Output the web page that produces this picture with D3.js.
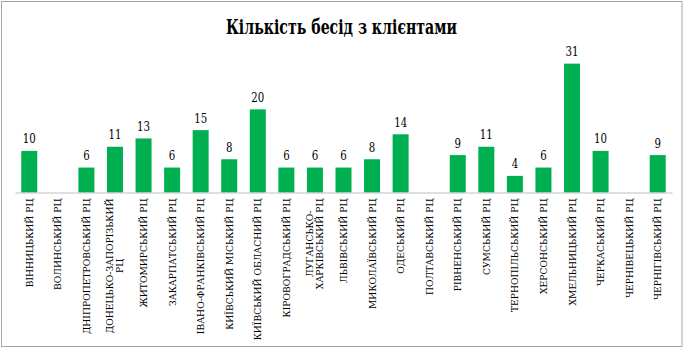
<!DOCTYPE html>
<html lang="uk">
<head>
    <meta charset="utf-8">
    <title>Кількість бесід з клієнтами</title>
    <script src="https://d3js.org/d3.v7.min.js"></script>
    <style>
        body { margin: 0; background: #fff; }
    </style>
</head>
<body>
<div id="chart"></div>
<script>
    // Data
    const categories = [
        "ВІННИЦЬКИЙ РЦ", "ВОЛИНСЬКИЙ РЦ", "ДНІПРОПЕТРОВСЬКИЙ РЦ", "ДОНЕЦЬКО-ЗАПОРІЗЬКИЙ РЦ",
        "ЖИТОМИРСЬКИЙ РЦ", "ЗАКАРПАТСЬКИЙ РЦ", "ІВАНО-ФРАНКІВСЬКИЙ РЦ", "КИЇВСЬКИЙ МІСЬКИЙ РЦ",
        "КИЇВСЬКИЙ ОБЛАСНИЙ РЦ", "КІРОВОГРАДСЬКИЙ РЦ", "ЛУГАНСЬКО-ХАРКІВСЬКИЙ РЦ", "ЛЬВІВСЬКИЙ РЦ",
        "МИКОЛАЇВСЬКИЙ РЦ", "ОДЕСЬКИЙ РЦ", "ПОЛТАВСЬКИЙ РЦ", "РІВНЕНСЬКИЙ РЦ",
        "СУМСЬКИЙ РЦ", "ТЕРНОПІЛЬСЬКИЙ РЦ", "ХЕРСОНСЬКИЙ РЦ", "ХМЕЛЬНИЦЬКИЙ РЦ",
        "ЧЕРКАСЬКИЙ РЦ", "ЧЕРНІВЕЦЬКИЙ РЦ", "ЧЕРНІГІВСЬКИЙ РЦ"
    ];
    const values = [10, null, 6, 11, 13, 6, 15, 8, 20, 6, 6, 6, 8, 14, null, 9, 11, 4, 6, 31, 10, null, 9];
    // how the long labels wrap in the original
    const labelLines = {
        "ДОНЕЦЬКО-ЗАПОРІЗЬКИЙ РЦ": ["ДОНЕЦЬКО-ЗАПОРІЗЬКИЙ", "РЦ"],
        "ЛУГАНСЬКО-ХАРКІВСЬКИЙ РЦ": ["ЛУГАНСЬКО-", "ХАРКІВСЬКИЙ РЦ"]
    };
    const title = "Кількість бесід з клієнтами";

    const W = 688, H = 349;
    const plot = {left: 15, right: 672, top: 47, bottom: 192.5};
    // DejaVu Serif is the serif face here that has the Ukrainian capitals
    const serif = "'DejaVu Serif', serif";

    const svg = d3.select("#chart").append("svg")
        .attr("width", W)
        .attr("height", H)
        .style("font-family", serif);

    // chart frame
    svg.append("rect")
        .attr("x", 1.5).attr("y", 1.5)
        .attr("width", 680.5).attr("height", 345)
        .attr("fill", "#fff")
        .attr("stroke", "#a6a6a6")
        .attr("stroke-width", 1);

    svg.append("text")
        .attr("x", 341.5)
        .attr("y", 33.5)
        .attr("text-anchor", "middle")
        .attr("font-weight", "bold")
        .attr("font-size", 20.5)
        .attr("textLength", 231)
        .attr("lengthAdjust", "spacingAndGlyphs")
        .text(title);

    const x = d3.scaleBand()
        .domain(categories)
        .range([plot.left, plot.right])
        .paddingInner(0.44)
        .paddingOuter(0.22);

    const y = d3.scaleLinear()
        .domain([0, 35])
        .range([plot.bottom, plot.top]);

    const data = categories.map((c, i) => ({cat: c, value: values[i]}));
    const withValue = data.filter(d => d.value != null);

    // Bars
    svg.selectAll("rect.bar")
        .data(withValue)
        .join("rect")
        .attr("class", "bar")
        .attr("x", d => x(d.cat))
        .attr("y", d => y(d.value))
        .attr("width", x.bandwidth())
        .attr("height", d => y(0) - y(d.value))
        .attr("fill", "#00b050");

    // Value labels
    svg.selectAll("text.val")
        .data(withValue)
        .join("text")
        .attr("class", "val")
        .attr("x", d => x(d.cat) + x.bandwidth() / 2)
        .attr("y", d => y(d.value) - 7.5)
        .attr("text-anchor", "middle")
        .attr("font-size", 12)
        .attr("transform-origin", d => `${x(d.cat) + x.bandwidth() / 2} 0`)
        .attr("transform", "scale(0.85,1)")
        .text(d => d.value);

    // Category axis
    const axis = svg.append("g")
        .attr("transform", `translate(0,${plot.bottom})`)
        .call(d3.axisBottom(x).tickSize(0).tickFormat(""));
    axis.select(".domain").attr("stroke", "#bfbfbf").attr("stroke-width", 1.2);

    // Rotated category labels, reading bottom to top, top edge just under the axis
    const labelTop = plot.bottom + 6;
    const lineH = 10;
    const fs = 10;

    // squeeze the wide serif along the text so "ВІННИЦЬКИЙ РЦ" is ~89px long as in the original
    const probe = svg.append("text").attr("font-size", fs).text(categories[0]);
    const squeeze = 89 / probe.node().getComputedTextLength();
    probe.remove();

    const lab = svg.selectAll("g.lab")
        .data(categories)
        .join("g")
        .attr("class", "lab")
        .attr("transform", d => `translate(${x(d) + x.bandwidth() / 2},${labelTop}) rotate(-90) scale(${squeeze},1)`);

    lab.each(function (d) {
        const g = d3.select(this);
        const lines = labelLines[d] || [d];
        const texts = lines.map((ln, i) => g.append("text")
            .attr("font-size", fs)
            .attr("y", (i - (lines.length - 1) / 2) * lineH)
            .attr("dy", "0.35em")
            .text(ln));
        const maxLen = d3.max(texts, t => t.node().getComputedTextLength());
        // center each line inside the block that starts under the axis
        texts.forEach(t => t.attr("x", -maxLen / 2).attr("text-anchor", "middle"));
    });
</script>
</body>
</html>
